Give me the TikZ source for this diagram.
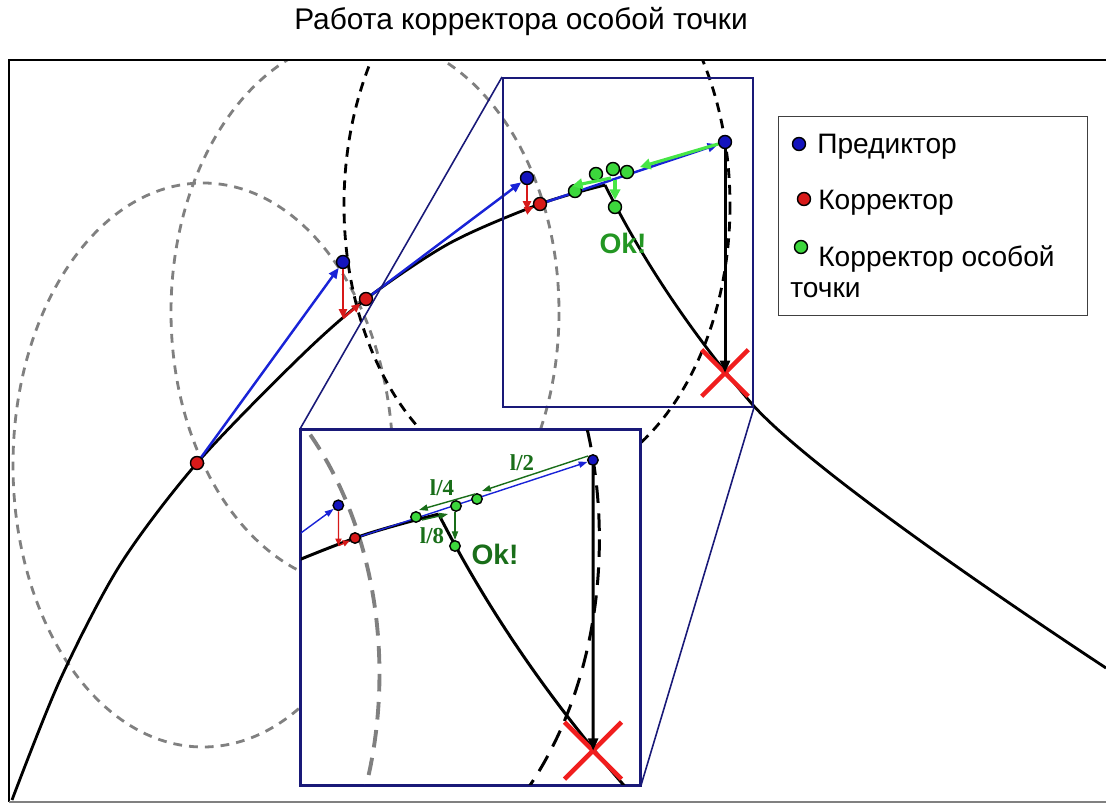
\documentclass[tikz,border=0pt]{standalone}
\usepackage{fontspec}
\setmainfont{Liberation Sans}
\newfontfamily\steplabelfont{Liberation Serif}
\usetikzlibrary{arrows.meta,shapes.misc}

\definecolor{predblue}{RGB}{20,20,190}
\definecolor{lineblue}{RGB}{25,35,215}
\definecolor{corrred}{RGB}{215,25,25}
\definecolor{xred}{RGB}{240,30,30}
\definecolor{specgreen}{RGB}{60,215,60}
\definecolor{spotgreen}{RGB}{70,230,70}
\definecolor{darkgreen}{RGB}{25,110,25}
\definecolor{okgreen}{RGB}{35,150,35}
\definecolor{framenavy}{RGB}{25,25,120}
\definecolor{circgray}{RGB}{128,128,128}

\tikzset{
  pdot/.style={circle, draw=black, line width=0.8pt, fill=predblue, inner sep=0pt, minimum size=0.26cm},
  cdot/.style={pdot, fill=corrred},
  gdot/.style={pdot, fill=specgreen},
  zoomdot/.style={minimum size=0.21cm},
  solcurve/.style={line width=1.6pt, line join=round},
  graycirc/.style={circgray, line width=1.6pt, dash pattern=on 5pt off 4pt},
  blackcirc/.style={black, line width=1.6pt, dash pattern=on 5.5pt off 4pt},
  graycircz/.style={circgray, line width=2.2pt, dash pattern=on 10pt off 6pt},
  blackcircz/.style={black, line width=1.7pt, dash pattern=on 10pt off 6pt},
  predarrow/.style={lineblue, line width=1.4pt, -{Triangle[length=6pt,width=5pt]}},
  corrarrow/.style={corrred, line width=1.4pt, -{Triangle[length=5pt,width=4.5pt]}},
  fallarrow/.style={black, line width=1.7pt, -{Triangle[length=7pt,width=5.5pt]}},
  spotarrow/.style={spotgreen, line width=1.8pt, -{Triangle[length=6pt,width=6pt]}},
  predarrowz/.style={lineblue, line width=0.8pt, -{Triangle[length=5pt,width=3.5pt]}},
  corrarrowz/.style={corrred, line width=0.8pt, -{Triangle[length=4pt,width=3.5pt]}},
  halfarrow/.style={darkgreen, line width=0.8pt, -{Triangle[length=5pt,width=3.5pt]}},
  bigcross/.style={cross out, draw=xred, line width=2.6pt, inner sep=0pt, minimum size=0.84cm},
  zoomframe/.style={draw=framenavy, line width=1.1pt, inner sep=0pt, anchor=north west},
  steplabel/.style={darkgreen, font=\steplabelfont\bfseries\fontsize{13}{15}\selectfont},
  oklabel/.style={font=\bfseries\fontsize{16}{19}\selectfont},
  legtext/.style={anchor=base west, font=\fontsize{16}{19}\selectfont, inner sep=0pt},
}

\begin{document}
\begin{tikzpicture}[x=0.02cm, y=-0.02cm]
\useasboundingbox (0,0) rectangle (1106,803);

% Title
\node[font=\fontsize{17}{20}\selectfont] (title) at (521,22) {Работа корректора особой точки};

% Plot area
\begin{scope}
\clip (9,60) rectangle (1106,802);
% step circles
\draw[graycirc] (203,465) ellipse [x radius=190, y radius=282];
\draw[graycirc] (365,312) ellipse [x radius=194, y radius=275];
\draw[blackcirc] (537,205) ellipse [x radius=193, y radius=282];
% solution curve
\draw[solcurve] plot[smooth] coordinates {(12,800) (60,680) (120,565) (197,463) (300,357) (366,299) (450,243) (540,204) (605,185)};
\draw[solcurve] (605,185) .. controls (635,245) and (680,320) .. (752,404)
  .. controls (800,458) and (950,565) .. (1106,668);
\end{scope}
\draw[line width=1.7pt] (1106,60) -- (9,60) -- (9,802);
\draw[circgray, line width=0.6pt] (9,802) -- (1106,802);

% Predictor and corrector steps
\node[cdot] (r0) at (197,463) {};
\node[pdot] (b1) at (343,262) {};
\node[cdot] (r1) at (366,299) {};
\node[pdot] (b2) at (527,178) {};
\node[cdot] (r2) at (540,204) {};
\node[pdot] (p3) at (725,142) {};
\node[bigcross] (xm) at (725,373) {};
\coordinate (f1) at (343,318);
\coordinate (f2) at (527,210);

\draw[predarrow] (r0) -- (b1);
\draw[corrarrow] (b1) -- (f1);
\draw[corrarrow] (f1) -- (r1);
\draw[predarrow] (r1) -- (b2);
\draw[corrarrow] (b2) -- (f2);
\draw[corrarrow] (f2) -- (r2);
\draw[predarrow] (r2) -- (p3);
\draw[fallarrow] (p3) -- (xm.center);

% Singular point corrector
\node[gdot] (ga) at (627,172) {};
\node[gdot] (gb) at (613,169) {};
\node[gdot] (gc) at (596,174) {};
\node[gdot] (gd) at (575,191) {};
\node[gdot] (ge) at (615,207) {};
\draw[spotarrow] (p3) -- ([shift={(13,-5)}]ga.center);
\draw[spotarrow] ([shift={(-2,9)}]gb.center) -- ([shift={(-3,-5)}]gd.center);
\draw[spotarrow] ([shift={(2,11)}]gb.center) -- (ge);
\node[oklabel, okgreen] (okm) at (623,243) {Ok!};

% Zoom frames
\node[zoomframe, minimum width=5cm, minimum height=6.58cm] (topbox) at (502,77) {};
\node[zoomframe, fill=white, minimum width=6.78cm, minimum height=7.1cm] (botbox) at (300,429) {};
\draw[framenavy, line width=0.9pt] (botbox.north west) -- (topbox.north west);
\draw[framenavy, line width=0.9pt] (botbox.south east) -- (topbox.south east);

% Magnified view
\begin{scope}
\clip (botbox.south west) rectangle (botbox.north east);
\begin{scope}[shift={(-339.4,281.4)}, xscale=1.286, yscale=1.258]
\draw[graycircz] (365,312) ellipse [x radius=194, y radius=275];
\draw[blackcircz] (537,205) ellipse [x radius=193, y radius=282];
\draw[solcurve, line width=1.7pt] plot[smooth] coordinates {(366,299) (450,243) (540,204) (605,185)};
\draw[solcurve, line width=1.7pt] (605,185) .. controls (635,245) and (680,320) .. (752,404)
  .. controls (800,458) and (950,565) .. (1106,668);
\node[pdot, zoomdot] (zb2) at (527,178) {};
\node[cdot, zoomdot] (zr2) at (540,204) {};
\node[pdot, zoomdot] (zp3) at (725,142) {};
\node[bigcross, minimum size=1.05cm] (zxm) at (725,373) {};
\coordinate (zr1) at (366,299);
\coordinate (zf2) at (527,210);
\draw[predarrowz] (zr1) -- (zb2);
\draw[corrarrowz] (zb2) -- (zf2);
\draw[corrarrowz] (zf2) -- (zr2);
\draw[predarrowz] (zr2) -- (zp3);
\draw[fallarrow] (zp3) -- (zxm.center);
\end{scope}
\node[gdot, zoomdot] (g1) at (477,499) {};
\node[gdot, zoomdot] (g2) at (456,506) {};
\node[gdot, zoomdot] (g3) at (416,517) {};
\node[gdot, zoomdot] (g4) at (455,546) {};
\draw[halfarrow] ([shift={(-5,-4)}]zp3.center) -- ([shift={(5,-8)}]g1.center);
\draw[halfarrow] ([shift={(-2,-5)}]g1.center) -- ([shift={(3,-7)}]g3.center);
\draw[halfarrow] ([shift={(6,3)}]g3.center) -- ([shift={(-8,8)}]g2.center);
\draw[halfarrow] ([shift={(-1,6)}]g2.center) -- (g4);
\node[steplabel] (l2) at (522,463) {l/2};
\node[steplabel] (l4) at (442,488) {l/4};
\node[steplabel] (l8) at (432,536) {l/8};
\node[oklabel, darkgreen] (okz) at (495,554) {Ok!};
\end{scope}
\draw[framenavy, line width=1.1pt] (botbox.south west) rectangle (botbox.north east);

% Legend
\node[draw=black!75, fill=white, line width=0.8pt, inner sep=0pt, anchor=north west,
  minimum width=6.18cm, minimum height=3.98cm] (legend) at (778,116) {};
\node[pdot] (lgp) at (799,144) {};
\node[legtext] (lgpt) at (817,154) {Предиктор};
\node[cdot] (lgc) at (804,199) {};
\node[legtext] (lgct) at (818,210) {Корректор};
\node[gdot] (lgs) at (801,247) {};
\node[legtext] (lgst) at (818,267) {Корректор особой};
\node[legtext] (lgsu) at (790,298) {точки};

\end{tikzpicture}
\end{document}
